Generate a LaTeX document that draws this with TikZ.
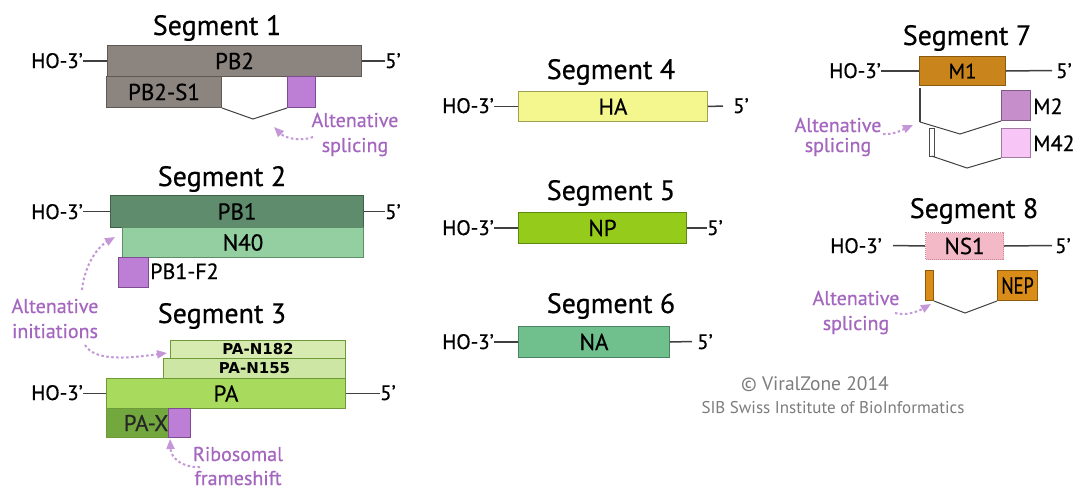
\documentclass[tikz,border=0pt]{standalone}
\usepackage{fontspec}
\setmainfont{PT Sans}[FakeBold=0.5]
\newfontfamily\dvbold{DejaVu Sans}
\newfontfamily\lightfont{PT Sans}
\usetikzlibrary{arrows.meta}
\definecolor{pbg}{HTML}{8C847F}
\definecolor{pbgd}{HTML}{5F5853}
\definecolor{purp}{HTML}{BD7FD6}
\definecolor{purpd}{HTML}{7E4C90}
\definecolor{ptext}{HTML}{A466BE}
\definecolor{parr}{HTML}{C497D8}
\definecolor{pbone}{HTML}{5E8C6C}
\definecolor{pboned}{HTML}{3E6148}
\definecolor{nforty}{HTML}{93CFA0}
\definecolor{nfortyd}{HTML}{5E8E68}
\definecolor{pan}{HTML}{D7EBB0}
\definecolor{pann}{HTML}{CDE6A3}
\definecolor{pac}{HTML}{A8DA5E}
\definecolor{pad}{HTML}{6E9A3A}
\definecolor{paxc}{HTML}{73A83E}
\definecolor{hac}{HTML}{F3F78E}
\definecolor{had}{HTML}{9CA050}
\definecolor{npc}{HTML}{95CC1C}
\definecolor{npd}{HTML}{5F8A10}
\definecolor{nac}{HTML}{70C08E}
\definecolor{nad}{HTML}{4A8460}
\definecolor{mone}{HTML}{C9841C}
\definecolor{moned}{HTML}{8A5A10}
\definecolor{mtwo}{HTML}{C68FCB}
\definecolor{mtwod}{HTML}{7F5A84}
\definecolor{mff}{HTML}{F8C6F6}
\definecolor{mffd}{HTML}{9E7A9C}
\definecolor{nsc}{HTML}{F4B9C6}
\definecolor{nsd}{HTML}{C88A98}
\definecolor{nepc}{HTML}{D98C18}
\definecolor{nepd}{HTML}{8E5A0C}
\definecolor{cpy}{HTML}{7C7C7C}
\begin{document}
\begin{tikzpicture}[x=1pt,y=-1pt,
  box/.style={draw, line width=1pt, inner sep=0pt, anchor=north west, font=\fontsize{23}{25}\selectfont},
  title/.style={font=\fontsize{28}{30}\selectfont, anchor=base, inner sep=0pt},
  endl/.style={font=\fontsize{21}{24}\selectfont, inner sep=0pt},
  note/.style={font=\fontsize{20}{25}\selectfont, text=ptext, align=center, inner sep=0pt, anchor=base},
  smallnote/.style={font=\fontsize{20}{20}\selectfont, text=ptext, align=center, inner sep=0pt, anchor=base},
  lab/.style={font=\fontsize{22}{24}\selectfont, inner sep=0pt, anchor=base west},
  tiny/.style={font=\dvbold\bfseries\fontsize{15}{16}\selectfont},
  lnk/.style={line width=1.5pt, draw=black!75},
  arr/.style={draw=parr, line width=2pt, dash pattern=on 2.5pt off 2.5pt, -{Triangle[length=10pt,width=8pt,fill=parr]}},
  cpyt/.style={font=\lightfont\fontsize{17}{18}\selectfont, text=cpy, inner sep=0pt, anchor=base}
]
\fill[white] (0,0) rectangle (1079,491);
\useasboundingbox (0,0) rectangle (1079,491);

% ---------------- Segment 1
\node[title] (t1) at (217,35) {Segment 1};
\node[box, fill=pbg, draw=pbgd, minimum width=254pt, minimum height=31pt] (pb2) at (107,45) {PB2};
\node[box, fill=pbg, draw=pbgd, minimum width=115pt, minimum height=31pt] (pb2s1) at (106,76) {PB2-S1};
\node[box, fill=purp, draw=purpd, minimum width=28pt, minimum height=31pt] (pb2p) at (287,76) {};
\coordinate (s1v) at (253,119);
\draw[lnk, line width=1pt] (pb2s1.south east) -- (s1v) -- (pb2p.south west);
\node[endl, anchor=base east] (h1) at (83,68) {HO-3’};
\node[endl, anchor=base west] (f1) at (385,68) {5’};
\draw[lnk] (pb2.west) -- (pb2.west -| h1.east);
\draw[lnk] (pb2.east) -- (pb2.east -| f1.west);
\node[note] (n1) at (355,152) {Altenative\\splicing};
\coordinate (a1s) at (313,137);
\coordinate (a1e) at (274,127);
\draw[arr] (a1s) .. controls (300,142) and (285,138) .. (a1e);

% ---------------- Segment 2
\node[title] (t2) at (222,186) {Segment 2};
\node[box, fill=pbone, draw=pboned, minimum width=253pt, minimum height=32pt] (pb1) at (110,195) {PB1};
\node[box, fill=nforty, draw=nfortyd, minimum width=241pt, minimum height=30pt] (n40) at (122,227) {N40};
\node[box, fill=purp, draw=purpd, minimum width=30pt, minimum height=30pt] (pbf) at (118,257) {};
\node[lab] (pbfl) at (150,279) {PB1-F2};
\node[endl, anchor=base east] (h2) at (83,219) {HO-3’};
\node[endl, anchor=base west] (f2) at (385,219) {5’};
\draw[lnk] (pb1.west) -- (pb1.west -| h2.east);
\draw[lnk] (pb1.east) -- (pb1.east -| f2.west);
\node[note] (n2) at (55,338) {Altenative\\initiations};
\coordinate (a2s) at (82,290);
\coordinate (a2e) at (115,237);
\draw[arr] (a2s) .. controls (84,268) and (96,248) .. (a2e);
\coordinate (a3s) at (85,345);
\coordinate (a3e) at (167,353);
\draw[arr] (a3s) .. controls (95,362) and (130,358) .. (a3e);

% ---------------- Segment 3
\node[title] (t3) at (222,323) {Segment 3};
\node[box, fill=pan, draw=pad, minimum width=175pt, minimum height=18pt, tiny] (pa182) at (170,340) {PA-N182};
\node[box, fill=pann, draw=pad, minimum width=182pt, minimum height=20pt, tiny] (pa155) at (163,358) {PA-N155};
\node[box, fill=pac, draw=pad, minimum width=239pt, minimum height=30pt] (pa) at (106,378) {PA};
\node[box, fill=paxc, draw=pad, minimum width=84pt, minimum height=29pt] (pax) at (106,408) {};
\node[box, fill=purp, draw=purpd, minimum width=22pt, minimum height=29pt] (paxp) at (168,408) {};
\node[font=\fontsize{23}{25}\selectfont, inner sep=0pt, text=black!85] (paxl) at (146,423) {PA-X};
\node[endl, anchor=base east] (h3) at (83,400) {HO-3’};
\node[endl, anchor=base west] (f3) at (380,400) {5’};
\draw[lnk] (pa.west) -- (pa.west -| h3.east);
\draw[lnk] (pa.east) -- (pa.east -| f3.west);
\node[note, font=\fontsize{20}{24}\selectfont] (n3) at (238,485) {Ribosomal\\frameshift};
\coordinate (a4s) at (200,467);
\coordinate (a4e) at (170,439);
\draw[arr] (a4s) .. controls (184,468) and (171,459) .. (a4e);

% ---------------- Segment 4
\node[title] (t4) at (611,79) {Segment 4};
\node[box, fill=hac, draw=had, minimum width=189pt, minimum height=30pt] (ha) at (518,91) {HA};
\node[endl, anchor=base east] (h4) at (494,113) {HO-3’};
\node[endl, anchor=base west] (f4) at (733,113) {5’};
\coordinate (e4) at (723,106);
\draw[lnk] (ha.west) -- (ha.west -| h4.east);
\draw[lnk] (ha.east) -- (e4);

% ---------------- Segment 5
\node[title] (t5) at (611,200) {Segment 5};
\node[box, fill=npc, draw=npd, minimum width=168pt, minimum height=31pt] (np) at (518,212) {NP};
\node[endl, anchor=base east] (h5) at (494,235) {HO-3’};
\node[endl, anchor=base west] (f5) at (707,235) {5’};
\draw[lnk] (np.west) -- (np.west -| h5.east);
\draw[lnk] (np.east) -- (np.east -| f5.west);

% ---------------- Segment 6
\node[title] (t6) at (611,313) {Segment 6};
\node[box, fill=nac, draw=nad, minimum width=151pt, minimum height=31pt] (na) at (518,326) {NA};
\node[endl, anchor=base east] (h6) at (494,349) {HO-3’};
\node[endl, anchor=base west] (f6) at (697,349) {5’};
\coordinate (e6) at (692,341.5);
\draw[lnk] (na.west) -- (na.west -| h6.east);
\draw[lnk] (na.east) -- (e6);

% ---------------- Segment 7
\node[title] (t7) at (967,45) {Segment 7};
\node[box, fill=mone, draw=moned, minimum width=86pt, minimum height=29pt, font=\fontsize{21}{23}\selectfont] (m1) at (919,56) {M1};
\node[endl, anchor=base east] (h7) at (881,78) {HO-3’};
\node[endl, anchor=base west] (f7) at (1056,78) {5’};
\draw[lnk] (m1.west) -- (m1.west -| h7.east);
\coordinate (e7) at (1052,70.5);
\draw[lnk] (m1.east) -- (e7);
\node[box, fill=mtwo, draw=mtwod, minimum width=29pt, minimum height=30pt] (m2) at (1001,90) {};
\node[box, fill=mff, draw=mffd, minimum width=29pt, minimum height=29pt] (m42) at (1001,128) {};
\node[lab] (m2l) at (1033,114) {M2};
\node[lab] (m42l) at (1033,151) {M42};
\coordinate (s7a) at (920,88);
\coordinate (s7b) at (920,122);
\coordinate (s7c) at (960,134);
\draw[draw=black!75, line width=2.5pt] (s7a) -- (s7b);
\draw[lnk, line width=1pt] (s7b) -- (s7c) -- (m2.south west);
\draw[draw=black!70, line width=0.9pt] (929,128) rectangle (934,156);
\coordinate (s7d) at (931.5,156);
\coordinate (s7e) at (967,168);
\draw[lnk, line width=1pt] (s7d) -- (s7e) -- (m42.south west);
\node[smallnote] (n7) at (838,152) {Altenative\\splicing};
\coordinate (a7s) at (883,134);
\coordinate (a7e) at (913,125);
\draw[arr] (a7s) .. controls (893,135) and (902,130) .. (a7e);

% ---------------- Segment 8
\node[title] (t8) at (974,218) {Segment 8};
\node[box, fill=nsc, draw=nsd, densely dotted, minimum width=78pt, minimum height=27pt] (ns1) at (925,232) {NS1};
\node[endl, anchor=base east] (h8) at (882,253) {HO-3’};
\node[endl, anchor=base west] (f8) at (1055,253) {5’};
\coordinate (l8) at (893,245.5);
\coordinate (e8) at (1052,245.5);
\draw[lnk] (ns1.west) -- (l8);
\draw[lnk] (ns1.east) -- (e8);
\node[box, fill=nepc, draw=nepd, minimum width=8pt, minimum height=30pt] (bar8) at (925,270) {};
\node[box, fill=nepc, draw=nepd, minimum width=40pt, minimum height=30pt, font=\fontsize{23}{24}\selectfont] (nep) at (997,270) {\scalebox{0.8}[1]{NEP}};
\coordinate (s8v) at (965,313);
\draw[lnk, line width=1pt] (bar8.south east) -- (s8v) -- (nep.south west);
\node[note] (n8) at (856,330) {Altenative\\splicing};
\coordinate (a8s) at (895,313);
\coordinate (a8e) at (931,304);
\draw[arr] (a8s) .. controls (905,316) and (917,312) .. (a8e);

% ---------------- Credits
\node[cpyt, font=\lightfont\fontsize{19.5}{20}\selectfont] (c1) at (815,390) {© ViralZone 2014};
\node[cpyt] (c2) at (833,413) {SIB Swiss Institute of BioInformatics};
\end{tikzpicture}
\end{document}
